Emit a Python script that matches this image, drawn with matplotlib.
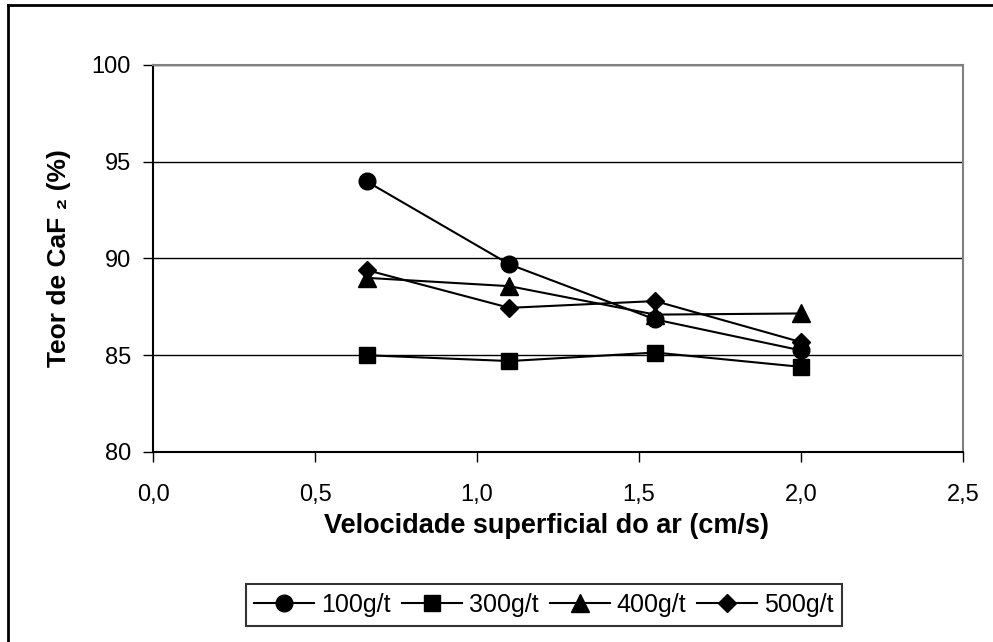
import matplotlib
matplotlib.use("Agg")
import matplotlib.pyplot as plt
from matplotlib.lines import Line2D

plt.rcParams['font.family'] = ['Liberation Sans', 'DejaVu Sans']

velocidade = [0.66, 1.10, 1.55, 2.00]
teor_100 = [93.98, 89.7, 86.85, 85.25]
teor_300 = [85.0, 84.7, 85.14, 84.4]
teor_400 = [89.0, 88.57, 87.1, 87.16]
teor_500 = [89.4, 87.45, 87.8, 85.68]
series = [("100g/t", teor_100, "o", 12), ("300g/t", teor_300, "s", 11.5),
          ("400g/t", teor_400, "^", 12.5), ("500g/t", teor_500, "D", 9)]

x_ticks = [0.0, 0.5, 1.0, 1.5, 2.0, 2.5]
x_labels = ["0,0", "0,5", "1,0", "1,5", "2,0", "2,5"]
y_ticks = [80, 85, 90, 95, 100]

W, H = 993, 642
fig = plt.figure(figsize=(W / 100, H / 100), dpi=100)
ax = fig.add_axes([153 / W, 1 - 452 / H, 810 / W, 387 / H])

# outer chart frame (only top and left edges visible)
fig.add_artist(Line2D([8 / W, 1.0], [1 - 5 / H, 1 - 5 / H], transform=fig.transFigure,
                      color="black", lw=2))
fig.add_artist(Line2D([8 / W, 8 / W], [0, 1 - 5 / H], transform=fig.transFigure,
                      color="black", lw=2))

for y in y_ticks[1:]:
    ax.axhline(y, color="black", lw=1, zorder=1)

handles = []
for name, vals, mk, ms in series:
    h, = ax.plot(velocidade, vals, color="black", lw=1.5, marker=mk, markersize=ms,
                 label=name, zorder=3)
    handles.append(h)

ax.set_xlim(0, 2.5)
ax.set_ylim(80, 100)
ax.set_xticks(x_ticks)
ax.set_xticklabels(x_labels)
ax.set_yticks(y_ticks)
ax.tick_params(axis="both", direction="out", length=7, width=1, labelsize=17, colors="black")
ax.tick_params(axis="x", pad=16)
ax.tick_params(axis="y", pad=9)

for side in ["top", "right"]:
    ax.spines[side].set_color("#808080")
    ax.spines[side].set_linewidth(1.5)
for side in ["left", "bottom"]:
    ax.spines[side].set_color("black")
    ax.spines[side].set_linewidth(1.5)

fig.text(546.5 / W, 1 - 526 / H, "Velocidade superficial do ar (cm/s)", fontsize=19.5,
         fontweight="bold", ha="center", va="center")
fig.text(59 / W, 1 - 258 / H, "Teor de CaF \u2082 (%)", fontsize=19, fontweight="bold",
         rotation=90, ha="center", va="center")

leg = fig.legend(handles=handles, loc="center", bbox_to_anchor=(544 / W, 1 - 605 / H),
                 ncol=4, fontsize=18, frameon=True, fancybox=False, handlelength=2.4,
                 handletextpad=0.28, columnspacing=0.44, borderpad=0.35, borderaxespad=0)
leg.get_frame().set_edgecolor("black")
leg.get_frame().set_linewidth(1.5)

fig.savefig("out.png", dpi=100)
